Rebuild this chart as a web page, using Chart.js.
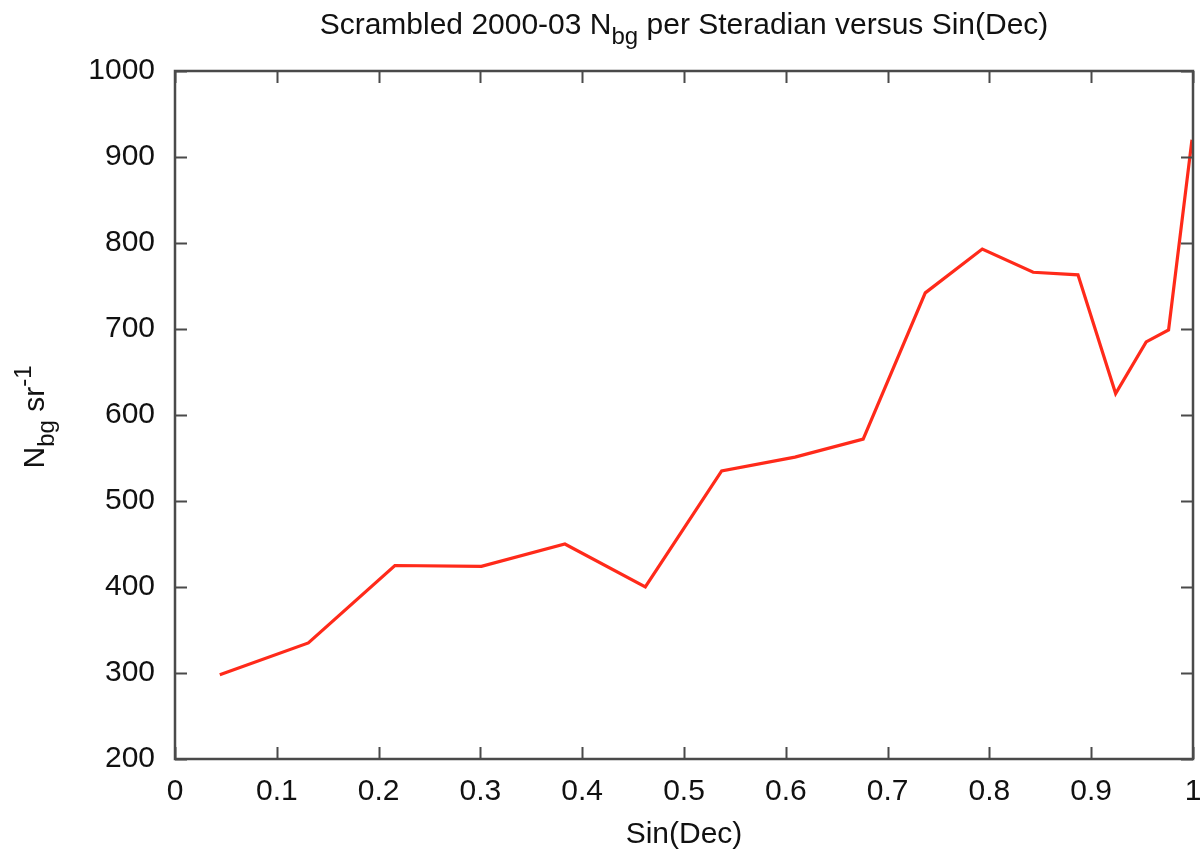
<!DOCTYPE html>
<html>
<head>
<meta charset="utf-8">
<title>Scrambled 2000-03 Nbg per Steradian versus Sin(Dec)</title>
<script src="https://cdn.jsdelivr.net/npm/chart.js@4/dist/chart.umd.min.js"></script>
<style>
  html, body { margin: 0; padding: 0; background: #ffffff; }
  #wrap { width: 1202px; height: 852px; }
</style>
</head>
<body>
<div id="wrap"><canvas id="chart" width="1202" height="852"></canvas></div>
<script>
// Background counts per steradian in declination bins (x = sin of bin centre)
const sinDec = [0.044, 0.131, 0.216, 0.301, 0.383, 0.462, 0.537, 0.609, 0.676,
                0.737, 0.793, 0.843, 0.887, 0.924, 0.954, 0.976, 0.999];
const nbgPerSr = [298, 335, 425, 424, 450, 400, 535, 551, 572,
                  742, 793, 766, 763, 625, 685, 699, 920];

// Axis tick values and labels
const xTickValues = [0, 0.1, 0.2, 0.3, 0.4, 0.5, 0.6, 0.7, 0.8, 0.9, 1];
const xTickLabels = ['0', '0.1', '0.2', '0.3', '0.4', '0.5', '0.6', '0.7', '0.8', '0.9', '1'];
const yTickValues = [200, 300, 400, 500, 600, 700, 800, 900, 1000];
const yTickLabels = ['200', '300', '400', '500', '600', '700', '800', '900', '1000'];

const FONT = '"Liberation Sans", Helvetica, Arial, sans-serif';
const TEXT_COLOR = '#111111';
const FRAME_COLOR = '#4a4a4a';
const FONT_SIZE = 30;

// Draw a run of text pieces; each piece may be normal, subscript or superscript
function drawRich(ctx, pieces, x, y, size, align) {
  const widths = pieces.map(p => {
    ctx.font = (p.kind === 'normal' ? size : Math.round(size * 0.8)) + 'px ' + FONT;
    return ctx.measureText(p.text).width;
  });
  const total = widths.reduce((a, b) => a + b, 0);
  let cx = align === 'center' ? x - total / 2 : x;
  pieces.forEach((p, i) => {
    let dy = 0;
    if (p.kind === 'sub') dy = size * 0.34;
    if (p.kind === 'sup') dy = -size * 0.45;
    ctx.font = (p.kind === 'normal' ? size : Math.round(size * 0.8)) + 'px ' + FONT;
    ctx.fillText(p.text, cx, y + dy);
    cx += widths[i];
  });
}

const framePlugin = {
  id: 'frameAndLabels',
  afterDraw(chart) {
    const ctx = chart.ctx;
    const a = chart.chartArea;
    const xs = chart.scales.x;
    const ys = chart.scales.y;
    const tickLen = 12;

    ctx.save();
    // inward tick marks on all four sides
    ctx.strokeStyle = FRAME_COLOR;
    ctx.lineWidth = 2;
    ctx.beginPath();
    xTickValues.forEach(v => {
      const px = Math.round(xs.getPixelForValue(v)) + 0.5;
      ctx.moveTo(px, a.bottom); ctx.lineTo(px, a.bottom - tickLen);
      ctx.moveTo(px, a.top); ctx.lineTo(px, a.top + tickLen);
    });
    yTickValues.forEach(v => {
      const py = Math.round(ys.getPixelForValue(v)) + 0.5;
      ctx.moveTo(a.left, py); ctx.lineTo(a.left + tickLen, py);
      ctx.moveTo(a.right, py); ctx.lineTo(a.right - tickLen, py);
    });
    ctx.stroke();

    // plot frame
    ctx.lineWidth = 2.5;
    ctx.strokeRect(a.left, a.top, a.right - a.left, a.bottom - a.top);

    // title
    ctx.fillStyle = TEXT_COLOR;
    ctx.textBaseline = 'alphabetic';
    ctx.textAlign = 'left';
    const cxMid = (a.left + a.right) / 2;
    drawRich(ctx, [
      { text: 'Scrambled 2000-03 N', kind: 'normal' },
      { text: 'bg', kind: 'sub' },
      { text: ' per Steradian versus Sin(Dec)', kind: 'normal' }
    ], cxMid, 34, FONT_SIZE, 'center');

    // x axis title
    drawRich(ctx, [{ text: 'Sin(Dec)', kind: 'normal' }], cxMid, 843, FONT_SIZE, 'center');

    // y axis title, rotated to read upward
    ctx.translate(44, 417);
    ctx.rotate(-Math.PI / 2);
    drawRich(ctx, [
      { text: 'N', kind: 'normal' },
      { text: 'bg', kind: 'sub' },
      { text: ' sr', kind: 'normal' },
      { text: '-1', kind: 'sup' }
    ], 0, 0, FONT_SIZE, 'center');
    ctx.restore();
  }
};

const points = sinDec.map((x, i) => ({ x: x, y: nbgPerSr[i] }));

new Chart(document.getElementById('chart'), {
  type: 'line',
  data: {
    datasets: [{
      data: points,
      borderColor: '#ff2a1a',
      borderWidth: 3.2,
      pointRadius: 0,
      tension: 0,
      fill: false
    }]
  },
  options: {
    responsive: false,
    animation: false,
    devicePixelRatio: 1,
    layout: { padding: { top: 71, right: 9, bottom: 0, left: 0 } },
    plugins: {
      legend: { display: false },
      title: { display: false },
      tooltip: { enabled: false }
    },
    scales: {
      x: {
        type: 'linear',
        min: 0,
        max: 1,
        afterBuildTicks(scale) { scale.ticks = xTickValues.map(v => ({ value: v })); },
        afterFit(scale) {
          scale.height = 93;
          scale.paddingLeft = 0;
          scale.paddingRight = 0;
        },
        grid: { display: false, drawTicks: false },
        border: { display: false },
        ticks: {
          autoSkip: false,
          maxRotation: 0,
          padding: 15,
          color: TEXT_COLOR,
          font: { family: FONT, size: FONT_SIZE },
          callback(value) {
            const i = xTickValues.findIndex(v => Math.abs(v - value) < 1e-9);
            return i >= 0 ? xTickLabels[i] : '';
          }
        }
      },
      y: {
        type: 'linear',
        min: 200,
        max: 1000,
        afterBuildTicks(scale) { scale.ticks = yTickValues.map(v => ({ value: v })); },
        afterFit(scale) {
          scale.width = 175;
          scale.paddingTop = 0;
          scale.paddingBottom = 0;
        },
        grid: { display: false, drawTicks: false },
        border: { display: false },
        ticks: {
          autoSkip: false,
          padding: 20,
          color: TEXT_COLOR,
          font: { family: FONT, size: FONT_SIZE },
          callback(value) {
            const i = yTickValues.indexOf(value);
            return i >= 0 ? yTickLabels[i] : '';
          }
        }
      }
    }
  },
  plugins: [framePlugin]
});
</script>
</body>
</html>
